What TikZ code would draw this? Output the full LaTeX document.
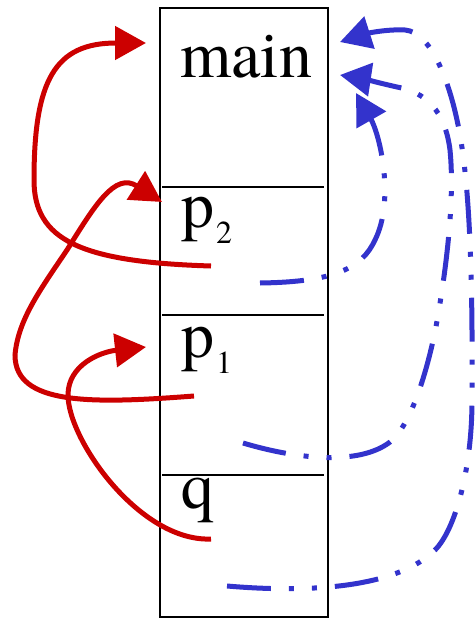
\documentclass[tikz,border=0pt]{standalone}
\usepackage{fontspec}
\newfontfamily\slotfont{texgyretermes-regular.otf}
\usepackage{xcolor}
\definecolor{cLink}{HTML}{CC0000}
\definecolor{cRet}{HTML}{3333CC}
\usetikzlibrary{arrows.meta}
\tikzset{
  frame-box/.style={draw=black,line width=2pt,inner sep=0pt},
  slot-rule/.style={draw=black,line width=1.5pt},
  slot-label/.style={anchor=base west,inner sep=0pt,
    font=\slotfont\fontsize{66}{70}\selectfont},
  arrow-link/.style={-{Triangle[length=31pt,width=33pt]},line width=5pt,draw=cLink},
  arrow-ret/.style={-{Triangle[length=31pt,width=33pt]},line width=5pt,draw=cRet,
    dash pattern=on 44pt off 18pt on 5pt off 18pt on 5pt off 18pt},
}
\newcommand{\slotsub}[1]{\kern2pt\raisebox{-16pt}{\fontsize{32}{32}\selectfont #1}}

\begin{document}
\begin{tikzpicture}[x=1pt,y=-1pt]
  \useasboundingbox (0,0) rectangle (475,621);
  % stack frame and its slots
  \node[frame-box,minimum width=168pt,minimum height=609.5pt] (stack) at (244,312.25) {};
  \draw[slot-rule] (162,187) -- (324,187);
  \draw[slot-rule] (162,315) -- (324,315);
  \draw[slot-rule] (162,475) -- (324,475);
  \node[slot-label] (main) at (180,77) {main};
  \node[slot-label] (p2) at (181,227) {p\slotsub{2}};
  \node[slot-label] (p1) at (181,357) {p\slotsub{1}};
  \node[slot-label] (q) at (181,508) {q};
  % link ends
  \coordinate (main-link) at (146,43);
  \coordinate (p2-link-in) at (162,202);
  \coordinate (p1-link-in) at (146,347);
  \coordinate (p2-link) at (211,266);
  \coordinate (p1-link) at (194,396);
  \coordinate (q-link) at (211,539);
  % return ends
  \coordinate (main-ret-a) at (340,42);
  \coordinate (main-ret-b) at (340,75);
  \coordinate (main-ret-c) at (356,93);
  \coordinate (p2-ret) at (260,283);
  \coordinate (p1-ret) at (243,443);
  \coordinate (q-ret) at (227,586);
  % red links
  \draw[arrow-link] (p2-link) .. controls (80,262) and (34,240) .. (34,180)
    .. controls (34,80) and (55,43) .. (main-link);
  \draw[arrow-link] (p1-link) .. controls (90,404) and (15,405) .. (15,355)
    .. controls (18,320) and (40,290) .. (67,250)
    .. controls (95,205) and (115,172) .. (p2-link-in);
  \draw[arrow-link] (q-link) .. controls (140,542) and (68,440) .. (68,395)
    .. controls (68,365) and (100,352) .. (p1-link-in);
  % blue returns
  \draw[arrow-ret] (q-ret) .. controls (320,594) and (400,585) .. (435,550)
    .. controls (455,530) and (472,470) .. (472,400)
    .. controls (473,250) and (468,170) .. (457,120)
    .. controls (448,78) and (430,32) .. (405,30)
    .. controls (385,29) and (365,34) .. (main-ret-a);
  \draw[arrow-ret] (p1-ret) .. controls (300,460) and (360,465) .. (390,442)
    .. controls (413,424) and (430,360) .. (437,321)
    .. controls (446,270) and (455,200) .. (450,150)
    .. controls (445,110) and (425,92) .. (397,87)
    .. controls (375,82) and (360,78) .. (main-ret-b);
  \draw[arrow-ret] (p2-ret) .. controls (335,282) and (362,268) .. (375,240)
    .. controls (395,200) and (380,135) .. (main-ret-c);
\end{tikzpicture}
\end{document}
